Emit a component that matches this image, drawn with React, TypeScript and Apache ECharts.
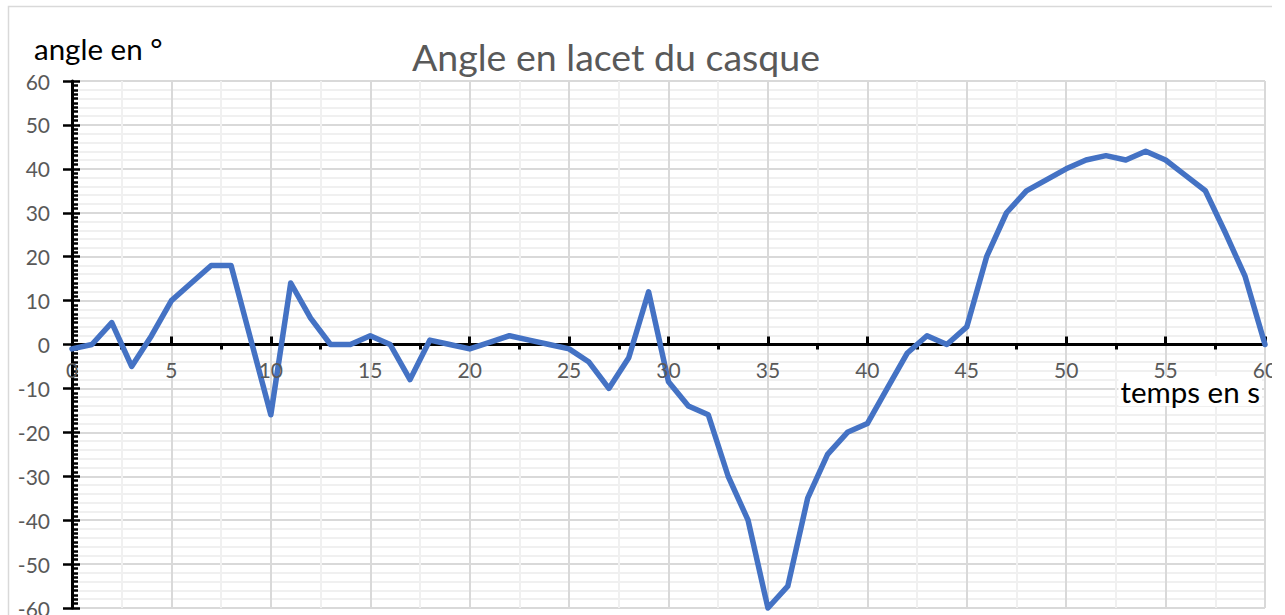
import { useEffect, useRef } from "react";
import * as echarts from "echarts";

const times = [
  0, 1, 2, 3, 4, 5, 6, 7, 8, 9, 10, 11, 12, 13, 14, 15, 16, 17, 18, 19, 20,
  21, 22, 23, 24, 25, 26, 27, 28, 29, 30, 31, 32, 33, 34, 35, 36, 37, 38, 39, 40,
  41, 42, 43, 44, 45, 46, 47, 48, 49, 50, 51, 52, 53, 54, 55, 56, 57, 58, 59, 60,
];
const angles = [
  -1, 0, 5, -5, 2, 10, 14, 18, 18, 1, -16, 14, 6, 0, 0, 2, 0, -8, 1, 0, -1,
  0.5, 2, 1, 0, -1, -4, -10, -3, 12, -8.5, -14, -16, -30, -40, -60, -55, -35, -25, -20, -18,
  -10, -2, 2, 0, 4, 20, 30, 35, 37.5, 40, 42, 43, 42, 44, 42, 38.5, 35, 25.5, 15.5, 0,
];
const xMinorTicks = [2.5, 7.5, 12.5, 17.5, 22.5, 27.5, 32.5, 37.5, 42.5, 47.5, 52.5, 57.5];
const titleText = "Angle en lacet du casque";
const yName = "angle en °";
const xName = "temps en s";

export default function App() {
  const ref = useRef<HTMLDivElement>(null);
  useEffect(() => {
    const chart = echarts.init(ref.current!, null, { renderer: "svg" });
    const font = "Lato";
    const black = "#000000";
    const major = "#d9d9d9";
    const minor = "#f0f0f0";
    const gridTop = 81;
    const gridBottom = 7;
    const plotHeight = 615 - gridTop - gridBottom;
    chart.setOption({
      animation: false,
      textStyle: { fontFamily: font },
      grid: {
        left: 72,
        right: 7,
        top: gridTop,
        bottom: gridBottom,
        containLabel: false,
        outerBoundsMode: "none",
      },
      graphic: [
        {
          type: "rect",
          silent: true,
          z: -10,
          shape: { x: 8.5, y: 6.5, width: 1400, height: 800 },
          style: { fill: "none", stroke: "#d9d9d9", lineWidth: 1.5 },
        },
        {
          type: "text",
          x: 616,
          y: 56,
          style: {
            text: titleText,
            fontFamily: font,
            fontSize: 37.5,
            fill: "#595959",
            align: "center",
            verticalAlign: "middle",
          },
        },
        {
          type: "text",
          x: 34,
          y: 48,
          style: {
            text: yName,
            fontFamily: font,
            fontSize: 29.5,
            fill: "#000000",
            align: "left",
            verticalAlign: "middle",
          },
        },
        {
          type: "text",
          x: 1262,
          y: 391,
          z: 3,
          style: {
            text: xName,
            fontFamily: font,
            fontSize: 29.5,
            fill: "#000000",
            align: "right",
            verticalAlign: "middle",
            backgroundColor: "#ffffff",
            padding: [0, 2, 0, 2],
          },
        },
      ],
      xAxis: [
        {
          type: "value",
          min: 0,
          max: 60,
          interval: 5,
          position: "bottom",
          axisLine: { show: true, onZero: true, lineStyle: { color: black, width: 3 } },
          axisTick: { show: true, inside: true, length: 8, lineStyle: { color: black, width: 3 } },
          minorTick: { show: false, splitNumber: 2 },
          splitLine: { show: true, lineStyle: { color: major, width: 2 } },
          minorSplitLine: { show: true, lineStyle: { color: minor, width: 2 } },
          axisLabel: { show: false },
        },
        {
          type: "value",
          min: 0,
          max: 60,
          interval: 5,
          position: "bottom",
          axisLine: { show: false, onZero: true },
          axisTick: {
            show: true,
            inside: false,
            length: 5,
            customValues: xMinorTicks,
            lineStyle: { color: black, width: 3 },
          },
          axisLabel: { show: false },
          splitLine: { show: false },
        },
        {
          type: "value",
          min: 0,
          max: 60,
          interval: 5,
          position: "bottom",
          z: 6,
          offset: -plotHeight / 2,
          axisLine: { show: false, onZero: false },
          axisTick: { show: false },
          splitLine: { show: false },
          axisLabel: {
            color: "#595959",
            fontSize: 21,
            fontFamily: font,
            margin: 14,
            showMinLabel: true,
            showMaxLabel: true,
          },
        },
      ],
      yAxis: [
        {
          type: "value",
          min: -60,
          max: 60,
          interval: 10,
          position: "left",
          axisLine: { show: true, onZero: false, lineStyle: { color: black, width: 3 } },
          axisTick: { show: true, inside: false, length: 9, lineStyle: { color: black, width: 2.5 } },
          minorTick: { show: false, splitNumber: 5 },
          splitLine: { show: true, lineStyle: { color: major, width: 2 } },
          minorSplitLine: { show: true, lineStyle: { color: minor, width: 2 } },
          axisLabel: { color: "#595959", fontSize: 21, fontFamily: font, margin: 22 },
        },
        {
          type: "value",
          min: -60,
          max: 60,
          interval: 10,
          position: "left",
          offset: 0,
          axisLine: { show: false, onZero: false },
          axisTick: { show: true, inside: true, length: 8, lineStyle: { color: black, width: 2.5 } },
          minorTick: { show: true, splitNumber: 10, length: 6, lineStyle: { color: black, width: 2.5 } },
          splitLine: { show: false },
          axisLabel: { show: false },
        },
      ],
      series: [
        {
          type: "line",
          xAxisIndex: 0,
          yAxisIndex: 0,
          data: times.map((t, i) => [t, angles[i]]),
          symbol: "none",
          showSymbol: false,
          clip: false,
          z: 5,
          lineStyle: { color: "#4472C4", width: 5.5, join: "round", cap: "round" },
        },
      ],
    });
    return () => chart.dispose();
  }, []);
  return (
    <div
      ref={ref}
      style={{
        position: "absolute",
        left: 0,
        top: 0,
        width: 1272,
        height: 615,
        overflow: "hidden",
        background: "#ffffff",
      }}
    />
  );
}
